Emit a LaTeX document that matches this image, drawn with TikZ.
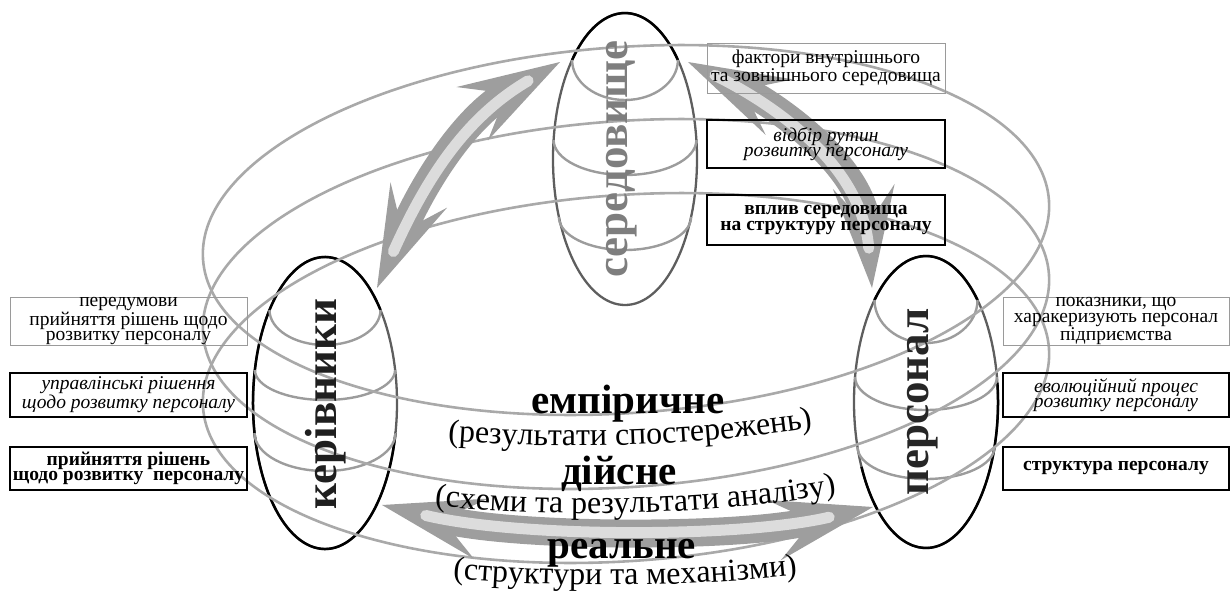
\documentclass[tikz,border=0pt]{standalone}
\usepackage{fontspec}
\setmainfont{Liberation Serif}
\usetikzlibrary{arrows.meta,decorations.text,calc}
\definecolor{ringline}{HTML}{A9A9A9}
\definecolor{shellgray}{HTML}{5E5E5E}
\definecolor{levelgray}{HTML}{9C9C9C}
\definecolor{arrowbody}{HTML}{9E9E9E}
\definecolor{arrowlight}{HTML}{DCDCDC}
\definecolor{thinframe}{HTML}{9A9A9A}
\definecolor{seredtext}{HTML}{7E7E7E}

\tikzset{
  ring/.style={draw=ringline, line width=2.6pt},
  shell/.style={draw=shellgray, line width=2.3pt},
  shellfront/.style={draw=black, line width=2.5pt},
  levelarc/.style={draw=levelgray, line width=2.4pt},
  bigarrow/.style={draw=arrowbody, line width=28pt,
    >={Stealth[length=102pt,width=62pt,inset=40pt,line width=0pt]}, <->},
  arrowcore/.style={draw=arrowlight, line width=11pt, line cap=round},
  boxbase/.style={inner sep=0pt, align=center, font=\fontsize{19.5}{15.5}\selectfont},
  infobox/.style={boxbase, draw=thinframe, line width=1pt},
  routinebox/.style={boxbase, draw=black, line width=1.6pt, font=\fontsize{19.5}{15.5}\selectfont\itshape},
  corebox/.style={boxbase, draw=black, line width=2.6pt, font=\fontsize{19.5}{15.5}\selectfont\bfseries},
  actor/.style={rotate=90, inner sep=0pt, font=\fontsize{45}{45}\selectfont\bfseries},
  level/.style={anchor=base, inner sep=0pt, font=\fontsize{41}{41}\selectfont\bfseries}
}

\begin{document}
\begin{tikzpicture}[x=1pt,y=-1pt]
\useasboundingbox (0,0) rectangle (1232,590);

% centres of the three vertical shells
\coordinate (Sc) at (625,159);
\coordinate (Kc) at (325,403);
\coordinate (Pc) at (926,402);

% shell outlines, grey where seen through the rings
\draw[shell] (Sc) ellipse [x radius=72, y radius=146];
\draw[shell] (Kc) ellipse [x radius=72, y radius=146];
\draw[shell] (Pc) ellipse [x radius=72, y radius=146];
\draw[shellfront] ($(Sc)+(222.7:72 and 146)$) arc[start angle=222.7, end angle=317.3, x radius=72, y radius=146];
\draw[shellfront] ($(Kc)+(11.8:72 and 146)$) arc[start angle=11.8, end angle=320.4, x radius=72, y radius=146];
\draw[shellfront] ($(Pc)+(224.3:72 and 146)$) arc[start angle=224.3, end angle=315.7, x radius=72, y radius=146];
\draw[shellfront] ($(Pc)+(-7.5:72 and 146)$) arc[start angle=-7.5, end angle=153.6, x radius=72, y radius=146];

% level sections inside each shell
\draw[levelarc] (572.1,60) arc[start angle=180, end angle=0, x radius=52.9, y radius=40];
\draw[levelarc] (553.6,140) arc[start angle=180, end angle=0, x radius=71.4, y radius=35];
\draw[levelarc] (558.9,217) arc[start angle=180, end angle=0, x radius=66.1, y radius=33];
\draw[levelarc] (269.5,310) arc[start angle=180, end angle=0, x radius=55.5, y radius=35];
\draw[levelarc] (254.9,370) arc[start angle=180, end angle=0, x radius=70.1, y radius=30];
\draw[levelarc] (254.5,433) arc[start angle=180, end angle=0, x radius=70.5, y radius=38];
\draw[levelarc] (874.5,300) arc[start angle=180, end angle=0, x radius=51.5, y radius=43];
\draw[levelarc] (855.1,377) arc[start angle=180, end angle=0, x radius=70.9, y radius=33];
\draw[levelarc] (857.5,447) arc[start angle=180, end angle=0, x radius=68.5, y radius=32];

% the three rings (levels of reality)
\foreach \cy in {230,304,378}
  \draw[ring, rotate around={4:(626,\cy)}] (626,\cy) ellipse [x radius=424, y radius=183];

% arrow ends
\coordinate (kerTip) at (377,288);
\coordinate (serL) at (560,62);
\coordinate (serR) at (688,62);
\coordinate (perTip) at (872,288);
\coordinate (kerLow) at (382,505);
\coordinate (perLow) at (873,507);

% double arrows between the actors
\draw[bigarrow] (kerTip) .. controls (430,170) and (470,115) .. (serL);
\draw[arrowcore, shorten <=40pt, shorten >=37pt] (kerTip) .. controls (430,170) and (470,115) .. (serL);
\draw[bigarrow] (serR) .. controls (775,105) and (862,165) .. (perTip);
\draw[arrowcore, shorten <=30pt, shorten >=40pt] (serR) .. controls (775,105) and (862,165) .. (perTip);
\draw[bigarrow] (kerLow) .. controls (520,538) and (740,538) .. (perLow);
\draw[arrowcore, shorten <=45pt, shorten >=45pt] (kerLow) .. controls (520,538) and (740,538) .. (perLow);

% side boxes: managers
\node[infobox, minimum width=237pt, minimum height=48pt] (preq) at (128.5,321) {передумови\\прийняття рішень щодо\\розвитку персоналу};
\node[routinebox, minimum width=237pt, minimum height=44pt] (mgmt) at (128.5,395) {управлінські рішення\\щодо розвитку персоналу};
\node[corebox, minimum width=237pt, minimum height=43pt] (decis) at (128.5,468.5) {прийняття рішень\\щодо розвитку\ \ персоналу};

% side boxes: staff
\node[infobox, minimum width=226pt, minimum height=48pt] (indic) at (1116,321) {показники, що\\харакеризують персонал\\підприємства};
\node[routinebox, minimum width=226pt, minimum height=44pt] (evol) at (1116,395) {еволюційний процес\\розвитку персоналу};
\node[corebox, minimum width=226pt, minimum height=43pt] (struct) at (1116,468.5) {структура персоналу};

% side boxes: environment
\node[infobox, minimum width=238pt, minimum height=50pt] (factors) at (826,68) {фактори внутрішнього\\та зовнішнього середовища};
\node[routinebox, minimum width=238pt, minimum height=48pt] (select) at (826,144) {відбір рутин\\розвитку персоналу};
\node[corebox, minimum width=238pt, minimum height=50pt] (impact) at (826,220) {вплив середовища\\на структуру персоналу};

% actor names
\node[actor, text=seredtext] (seredovyshche) at (622,159) {середовище};
\node[actor, text=black!88] (kerivnyky) at (326,404) {керівники};
\node[actor, text=black!85] (personal) at (923,402) {персонал};

% level names
\node[level] (empir) at (628,413) {емпіричне};
\node[level] (diysne) at (619,484) {дійсне};
\node[level] (realne) at (622,558) {реальне};

\path[decorate, decoration={text along path, text align=center,
  text={|\fontsize{32}{32}\selectfont|(результати спостережень)}}]
  (370,433) .. controls (520,453) and (720,451) .. (890,414);
\path[decorate, decoration={text along path, text align=center,
  text={|\fontsize{32}{32}\selectfont|(схеми та результати аналізу)}}]
  (365,497) .. controls (520,521) and (735,521) .. (905,480);
\path[decorate, decoration={text along path, text align=center,
  text={|\fontsize{32}{32}\selectfont|(структури та механізми)}}]
  (370,569) .. controls (520,591) and (720,591) .. (880,564);
\end{tikzpicture}
\end{document}
